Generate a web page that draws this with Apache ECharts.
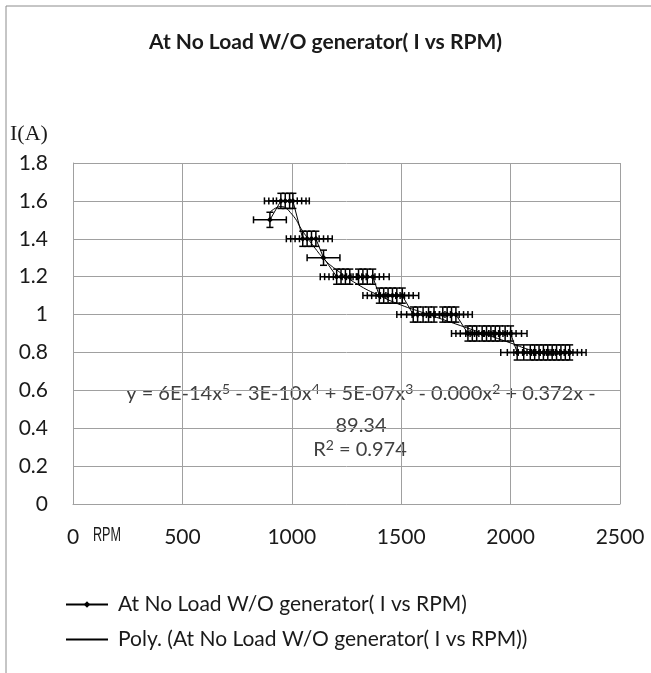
<!DOCTYPE html>
<html>
<head>
<meta charset="utf-8">
<script src="https://cdn.jsdelivr.net/npm/echarts@6/dist/echarts.min.js"></script>
<style>
  html, body { margin: 0; padding: 0; background: #fff; }
  #main { width: 651px; height: 673px; }
</style>
</head>
<body>
<div id="main"></div>
<script>
// measured points (RPM, current)
var rpm = [900, 950, 970, 990, 1005, 1050, 1070, 1090, 1110, 1145,
    1205, 1225, 1245, 1265, 1305, 1325, 1345, 1370,
    1400, 1420, 1440, 1460, 1480, 1505,
    1555, 1575, 1600, 1625, 1650, 1690, 1710, 1730, 1750,
    1805, 1825, 1845, 1870, 1890, 1910, 1930, 1950, 1975, 2000,
    2030, 2060, 2090, 2110, 2130, 2150, 2170, 2190, 2210, 2230, 2250, 2270];
var current = [1.5, 1.6, 1.6, 1.6, 1.6, 1.4, 1.4, 1.4, 1.4, 1.3,
    1.2, 1.2, 1.2, 1.2, 1.2, 1.2, 1.2, 1.2,
    1.1, 1.1, 1.1, 1.1, 1.1, 1.1,
    1.0, 1.0, 1.0, 1.0, 1.0, 1.0, 1.0, 1.0, 1.0,
    0.9, 0.9, 0.9, 0.9, 0.9, 0.9, 0.9, 0.9, 0.9, 0.9,
    0.8, 0.8, 0.8, 0.8, 0.8, 0.8, 0.8, 0.8, 0.8, 0.8, 0.8, 0.8];
var errRpm = 75;
var errCurrent = 0.04;

// poly trendline
var trendRpm = [900, 950, 1000, 1050, 1100, 1150, 1200, 1300, 1400, 1500, 1600, 1700, 1800, 1900, 2000, 2100, 2200, 2270];
var trendI = [1.54, 1.57, 1.53, 1.44, 1.36, 1.29, 1.24, 1.16, 1.10, 1.05, 1.01, 0.97, 0.93, 0.89, 0.85, 0.81, 0.79, 0.80];

var seriesName = 'At No Load W/O generator( I vs RPM)';
var trendName = 'Poly. (At No Load W/O generator( I vs RPM))';
var font = 'Lato';

var points = rpm.map(function (r, i) { return [r, current[i]]; });
var trend = trendRpm.map(function (r, i) { return [r, trendI[i]]; });

var myChart = echarts.init(document.getElementById('main'));

function errorBars(params, api) {
    var x = api.value(0), y = api.value(1);
    var l = api.coord([x - errRpm, y]);
    var r = api.coord([x + errRpm, y]);
    var t = api.coord([x, y + errCurrent]);
    var b = api.coord([x, y - errCurrent]);
    var cap = 3.5;
    var st = { stroke: '#000', lineWidth: 1.5 };
    return {
        type: 'group',
        children: [
            { type: 'line', shape: { x1: l[0], y1: l[1], x2: r[0], y2: r[1] }, style: st },
            { type: 'line', shape: { x1: l[0], y1: l[1] - cap, x2: l[0], y2: l[1] + cap }, style: st },
            { type: 'line', shape: { x1: r[0], y1: r[1] - cap, x2: r[0], y2: r[1] + cap }, style: st },
            { type: 'line', shape: { x1: t[0], y1: t[1], x2: b[0], y2: b[1] }, style: st },
            { type: 'line', shape: { x1: t[0] - cap, y1: t[1], x2: t[0] + cap, y2: t[1] }, style: st },
            { type: 'line', shape: { x1: b[0] - cap, y1: b[1], x2: b[0] + cap, y2: b[1] }, style: st }
        ]
    };
}

// equation label: normal text + superscripts
var supRich = {
    s: { fontFamily: font, fontSize: 14, fill: '#404040', padding: [0, 0, 9, 0] },
    n: { fontFamily: font, fontSize: 20, fill: '#404040' }
};

var option = {
    animation: false,
    title: {
        text: 'At No Load W/O generator( I vs RPM)',
        left: 'center',
        top: 27,
        textStyle: { fontFamily: font, fontSize: 21, fontWeight: 'bold', color: '#1a1a1a' }
    },
    grid: { left: 73, top: 163, width: 547, height: 341 },
    legend: {
        orient: 'vertical',
        left: 60,
        top: 589,
        itemWidth: 42,
        itemHeight: 8,
        itemGap: 14,
        data: [
            { name: seriesName },
            { name: trendName, itemStyle: { opacity: 0 } }
        ],
        textStyle: { fontFamily: font, fontSize: 21, color: '#1a1a1a', padding: [0, 0, 0, 5] }
    },
    xAxis: {
        type: 'value',
        min: 0,
        max: 2500,
        interval: 500,
        axisLine: { show: true, lineStyle: { color: '#a0a0a0' } },
        axisTick: { show: false },
        splitLine: { show: true, lineStyle: { color: '#a0a0a0', width: 1 } },
        axisLabel: {
            fontFamily: font, fontSize: 21, color: '#1a1a1a', margin: 23,
            formatter: function (v) { return String(v); }
        }
    },
    yAxis: {
        type: 'value',
        min: 0,
        max: 1.8,
        interval: 0.2,
        axisLine: { show: true, lineStyle: { color: '#a0a0a0' } },
        axisTick: { show: false },
        splitLine: { show: true, lineStyle: { color: '#a0a0a0', width: 1 } },
        axisLabel: {
            fontFamily: font, fontSize: 21, color: '#1a1a1a', margin: 25,
            formatter: function (v) { return String(Math.round(v * 10) / 10); }
        }
    },
    series: [
        {
            name: 'errors',
            type: 'custom',
            renderItem: errorBars,
            data: points,
            z: 3
        },
        {
            name: seriesName,
            type: 'line',
            data: points,
            symbol: 'diamond',
            symbolSize: 6,
            showSymbol: true,
            itemStyle: { color: '#000' },
            lineStyle: { color: '#000', width: 1 },
            z: 4
        },
        {
            name: trendName,
            type: 'line',
            data: trend,
            smooth: true,
            symbol: 'none',
            itemStyle: { color: '#000' },
            lineStyle: { color: '#000', width: 1 },
            z: 4
        }
    ],
    graphic: [
        { type: 'rect', shape: { x: 6, y: 6, width: 700, height: 700 }, style: { fill: 'none', stroke: '#8c8c8c', lineWidth: 1 }, silent: true, z: -1 },
        { type: 'text', left: 10, top: 123, style: { text: 'I(A)', font: '22px "Liberation Serif"', fill: '#1a1a1a' } },
        { type: 'text', x: 93, y: 525, scaleX: 0.63, style: { text: 'RPM', font: '20px "Liberation Sans"', fill: '#1a1a1a' } },
        {
            type: 'text', x: 361, y: 394,
            style: {
                text: '{n|y = 6E-14x}{s|5}{n| - 3E-10x}{s|4}{n| + 5E-07x}{s|3}{n| - 0.000x}{s|2}{n| + 0.372x -}',
                rich: supRich, align: 'center', verticalAlign: 'middle'
            }
        },
        { type: 'text', x: 361, y: 426, style: { text: '89.34', font: '20px Lato', fill: '#404040', align: 'center', verticalAlign: 'middle' } },
        {
            type: 'text', x: 360, y: 450,
            style: { text: '{n|R}{s|2}{n| = 0.974}', rich: supRich, align: 'center', verticalAlign: 'middle' }
        }
    ]
};

myChart.setOption(option);
window.addEventListener('resize', function () { myChart.resize(); });
</script>
</body>
</html>
